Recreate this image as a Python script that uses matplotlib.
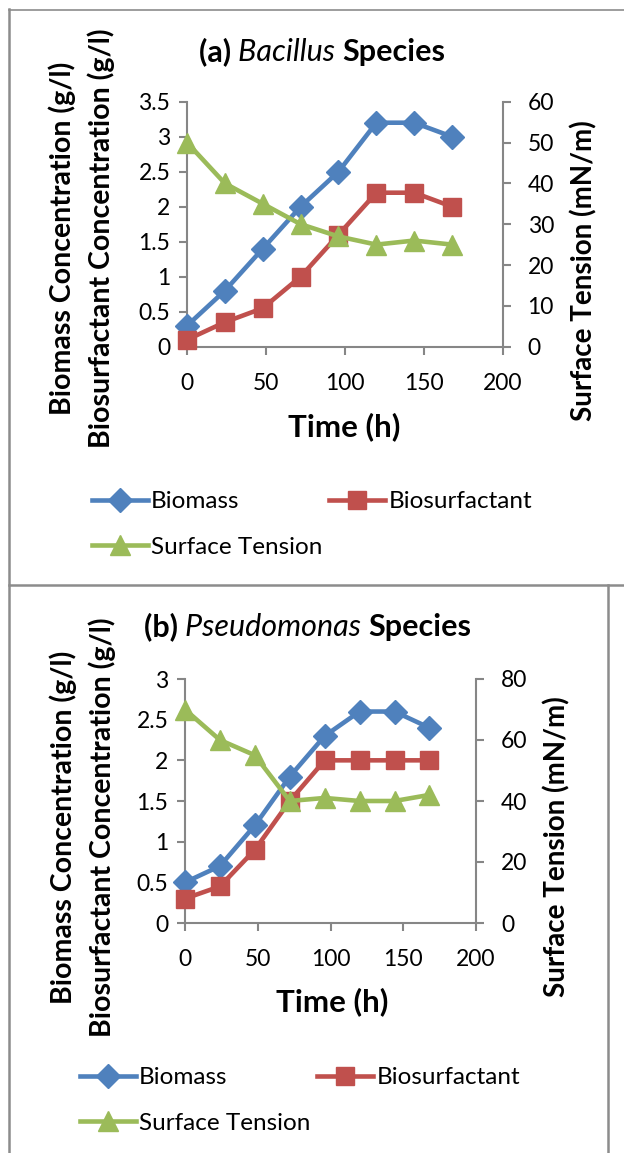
import matplotlib.pyplot as plt
from matplotlib.lines import Line2D

plt.rcParams['font.family'] = ['Lato', 'DejaVu Sans']

# sampling times (h)
time_h = [0, 24, 48, 72, 96, 120, 144, 168]

# (a) Bacillus
bac_biomass = [0.3, 0.8, 1.4, 2.0, 2.5, 3.2, 3.2, 3.0]
bac_biosurf = [0.1, 0.35, 0.55, 1.0, 1.6, 2.2, 2.2, 2.0]
bac_tension = [50, 40, 35, 30, 27, 25, 26, 25]

# (b) Pseudomonas
pse_biomass = [0.5, 0.7, 1.2, 1.8, 2.3, 2.6, 2.6, 2.4]
pse_biosurf = [0.3, 0.45, 0.9, 1.5, 2.0, 2.0, 2.0, 2.0]
pse_tension = [70, 60, 55, 40, 41, 40, 40, 42]

x_ticks = [0, 50, 100, 150, 200]
bac_left_ticks = [0, 0.5, 1, 1.5, 2, 2.5, 3, 3.5]
bac_right_ticks = [0, 10, 20, 30, 40, 50, 60]
pse_left_ticks = [0, 0.5, 1, 1.5, 2, 2.5, 3]
pse_right_ticks = [0, 20, 40, 60, 80]

series_names = ['Biomass', 'Biosurfactant', 'Surface Tension']

BLUE = '#4F81BD'
RED = '#C0504D'
GREEN = '#9BBB59'
AXC = '#868686'
BORDER = '#8c8c8c'

W, H = 624, 1153
fig = plt.figure(figsize=(W / 100, H / 100), dpi=100)

TICK_FS = 16.5
TITLE_FS = 22
LAB_FS = 20.5
TIME_FS = 22.5
LEG_FS = 17.5


def fx(x):
    return x / W


def fy(y):
    return 1 - y / H


def fmt(v):
    return f"{v:g}"


def style_axis(ax):
    for s in ax.spines.values():
        s.set_color(AXC)
        s.set_linewidth(1.5)
    ax.spines['top'].set_visible(False)
    ax.tick_params(colors=AXC, labelcolor='black', width=1.5, length=6,
                   labelsize=TICK_FS, direction='out')


def panel(box, biomass, biosurf, tension, lticks, rticks, title, label_x,
          lab_y, rlab_x, rlab_y, time_xy, leg_xy):
    left, top, right, bottom = box
    ax = fig.add_axes([fx(left), fy(bottom), fx(right - left), (bottom - top) / H])
    ax2 = ax.twinx()
    for a in (ax, ax2):
        style_axis(a)
        a.patch.set_visible(False)
    ax.spines['right'].set_visible(False)
    ax2.spines['left'].set_visible(False)
    ax2.spines['bottom'].set_visible(False)

    h1, = ax.plot(time_h, biomass, color=BLUE, lw=3.3, marker='D', ms=12,
                  clip_on=False, zorder=3)
    h2, = ax.plot(time_h, biosurf, color=RED, lw=3.3, marker='s', ms=13.5,
                  clip_on=False, zorder=3)
    h3, = ax2.plot(time_h, tension, color=GREEN, lw=3.3, marker='^', ms=15,
                   clip_on=False, zorder=3)

    ax.set_xlim(0, 200)
    ax.set_xticks(x_ticks)
    ax.set_xticklabels([fmt(v) for v in x_ticks])
    ax.set_ylim(lticks[0], lticks[-1])
    ax.set_yticks(lticks)
    ax.set_yticklabels([fmt(v) for v in lticks])
    ax2.set_ylim(rticks[0], rticks[-1])
    ax2.set_yticks(rticks)
    ax2.set_yticklabels([fmt(v) for v in rticks])
    ax.tick_params(axis='x', pad=13)
    ax.tick_params(axis='y', pad=6)
    ax2.tick_params(axis='y', pad=12)

    # title: bold / italic / bold pieces chained one after another
    t1 = fig.text(fx(title[0]), fy(title[1]), title[2] + ' ', fontsize=TITLE_FS,
                  fontweight='bold', va='center', ha='left')
    t2 = fig.add_artist(plt.Annotation(title[3] + ' ', xy=(1, 0), xycoords=t1,
                                       fontsize=TITLE_FS, style='italic',
                                       va='bottom', ha='left'))
    fig.add_artist(plt.Annotation(title[4], xy=(1, 0), xycoords=t2,
                                  fontsize=TITLE_FS, fontweight='bold',
                                  va='bottom', ha='left'))

    fig.text(fx(label_x[0]), fy(lab_y), 'Biomass Concentration (g/l)',
             rotation=90, fontsize=LAB_FS, fontweight='bold',
             ha='center', va='center')
    fig.text(fx(label_x[1]), fy(lab_y), 'Biosurfactant Concentration (g/l)',
             rotation=90, fontsize=LAB_FS, fontweight='bold',
             ha='center', va='center')
    fig.text(fx(rlab_x), fy(rlab_y), 'Surface Tension (mN/m)',
             rotation=90, fontsize=LAB_FS - 0.5, fontweight='bold',
             ha='center', va='center')
    fig.text(fx(time_xy[0]), fy(time_xy[1]), 'Time (h)', fontsize=TIME_FS,
             fontweight='bold', ha='center', va='center')

    fig.legend([h1, h3, h2], [series_names[0], series_names[2], series_names[1]],
               ncol=2, loc='center left',
               bbox_to_anchor=(fx(leg_xy[0]), fy(leg_xy[1])),
               frameon=False, borderpad=0, borderaxespad=0,
               handlelength=2.3, handletextpad=0.12, columnspacing=0.3,
               labelspacing=1.0, fontsize=LEG_FS)
    return ax


panel((187, 101.7, 502.6, 346.7), bac_biomass, bac_biosurf, bac_tension,
      bac_left_ticks, bac_right_ticks,
      (199, 52, '(a)', 'Bacillus', 'Species'),
      (62, 101.5), 238, 584, 271, (344, 427), (92, 524.5))

panel((185, 679, 476, 923), pse_biomass, pse_biosurf, pse_tension,
      pse_left_ticks, pse_right_ticks,
      (144, 627, '(b)', 'Pseudomonas', 'Species'),
      (63, 102), 827, 557, 847, (332, 1002), (80, 1100.5))

# table-style cell borders
fig.add_artist(Line2D([fx(9), fx(9)], [fy(9), 0], color=BORDER, lw=1.8))
fig.add_artist(Line2D([fx(9), 1], [fy(9.5), fy(9.5)], color=BORDER, lw=1.2))
fig.add_artist(Line2D([fx(9), 1], [fy(585), fy(585)], color=BORDER, lw=1.8))
fig.add_artist(Line2D([fx(608), fx(608)], [fy(585), 0], color=BORDER, lw=1.8))

fig.savefig('out.png', dpi=100)
